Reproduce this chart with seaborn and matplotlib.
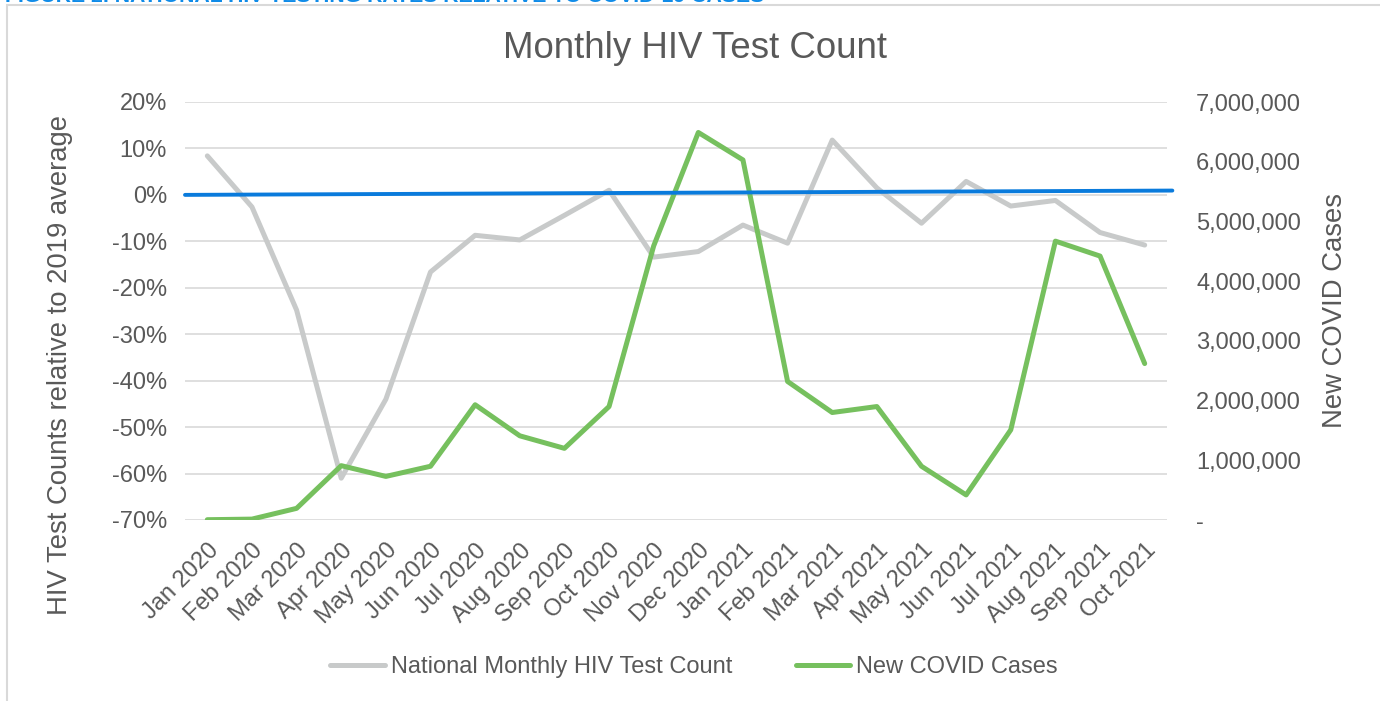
import pandas as pd
import numpy as np
import matplotlib
matplotlib.use('Agg')
import matplotlib.pyplot as plt
from matplotlib.patches import Rectangle
from matplotlib.lines import Line2D
import seaborn as sns

sns.set_theme(style='white')
plt.rcParams['font.family'] = ['Liberation Sans', 'DejaVu Sans']

TEXT = '#595959'
GRID = '#D9D9D9'
GRAY = '#C8CACA'
GREEN = '#76C05E'
BLUE = '#0A7BDC'

months = ['Jan 2020', 'Feb 2020', 'Mar 2020', 'Apr 2020', 'May 2020', 'Jun 2020',
          'Jul 2020', 'Aug 2020', 'Sep 2020', 'Oct 2020', 'Nov 2020', 'Dec 2020',
          'Jan 2021', 'Feb 2021', 'Mar 2021', 'Apr 2021', 'May 2021', 'Jun 2021',
          'Jul 2021', 'Aug 2021', 'Sep 2021', 'Oct 2021']
# HIV test counts relative to 2019 average (%)
hiv_pct = [8.4, -2.6, -24.8, -61.0, -44.0, -16.6, -8.7, -9.7, -4.4, 1.0, -13.4,
           -12.2, -6.5, -10.4, 11.8, 1.5, -6.1, 2.9, -2.4, -1.2, -8.1, -10.8]
# new COVID cases per month
covid_cases = [5000, 15000, 195000, 910000, 730000, 900000, 1930000, 1410000,
               1200000, 1900000, 4590000, 6490000, 6030000, 2320000, 1800000,
               1900000, 900000, 420000, 1510000, 4670000, 4420000, 2620000]
# 2019 baseline reference line (start / end, in %)
baseline_x = [-0.5, 21.62]
baseline_pct = [0.0, 0.93]

left_ticks = [20, 10, 0, -10, -20, -30, -40, -50, -60, -70]
right_ticks = [0, 1e6, 2e6, 3e6, 4e6, 5e6, 6e6, 7e6]

df = pd.DataFrame({'idx': np.arange(len(months)), 'month': months,
                   'hiv': hiv_pct, 'covid': covid_cases})
base = pd.DataFrame({'x': baseline_x, 'y': baseline_pct})

fig = plt.figure(figsize=(13.8, 7.01), dpi=100)
ax = fig.add_axes([185 / 1380, 1 - 520 / 701, 982 / 1380, 418 / 701])
ax2 = ax.twinx()

line_kw = dict(solid_capstyle='round', solid_joinstyle='round')
sns.lineplot(data=df, x='idx', y='hiv', ax=ax, color=GRAY, linewidth=3.6, zorder=3, **line_kw)
sns.lineplot(data=df, x='idx', y='covid', ax=ax2, color=GREEN, linewidth=3.6, zorder=3, **line_kw)
sns.lineplot(data=base, x='x', y='y', ax=ax2, color=BLUE, linewidth=2.8, zorder=5, clip_on=False)
# baseline sits on the right axes so it is drawn on top; convert % to right-axis units
bl = ax2.lines[-1]
bl.set_ydata([(v + 70) / 90 * 7e6 for v in baseline_pct])

ax.set_xlim(-0.5, len(months) - 0.5)
ax.set_ylim(-70, 20)
ax2.set_ylim(0, 7e6)

ax.set_yticks(left_ticks)
ax.set_yticklabels([f'{t}%' for t in left_ticks])
ax2.set_yticks(right_ticks)
ax2.set_yticklabels(['-' if t == 0 else f'{int(t):,}' for t in right_ticks])
ax.set_xticks(df['idx'])
ax.set_xticklabels(months, rotation=45, ha='right', rotation_mode='anchor')

ax.grid(axis='y', color=GRID, linewidth=1.2)
ax.grid(axis='x', visible=False)
ax2.grid(False)
for a in (ax, ax2):
    for s in a.spines.values():
        s.set_visible(False)
    a.set_xlabel('')
    a.set_ylabel('')
ax.tick_params(axis='y', length=0, pad=13, labelsize=17, labelcolor=TEXT)
ax.tick_params(axis='x', length=0, pad=14, labelsize=17, labelcolor=TEXT)
ax2.tick_params(axis='y', length=0, pad=21, labelsize=17, labelcolor=TEXT)

fig.text(60 / 1380, 1 - 365 / 701, 'HIV Test Counts relative to 2019 average',
         rotation=90, ha='center', va='center', fontsize=19.8, color=TEXT)
fig.text(1335 / 1380, 1 - 311 / 701, 'New COVID Cases',
         rotation=90, ha='center', va='center', fontsize=19.8, color=TEXT)
fig.text(695 / 1380, 1 - 48 / 701, 'Monthly HIV Test Count',
         ha='center', va='center', fontsize=26.4, color=TEXT)

# figure caption, cut off at the top edge as in the source
fig.text(5 / 1380, 1 - 2 / 701, 'FIGURE 2. NATIONAL HIV TESTING RATES RELATIVE TO COVID-19 CASES',
         ha='left', va='baseline', fontsize=15.3, fontweight='bold', color='#0F8BE8')

fig.patches.append(Rectangle((7 / 1380, -0.1), 1.2, 1.1 - 5 / 701, transform=fig.transFigure,
                             fill=False, edgecolor=GRID, linewidth=1.5))

handles = [Line2D([], [], color=GRAY, linewidth=3.6, solid_capstyle='round'),
           Line2D([], [], color=GREEN, linewidth=3.6, solid_capstyle='round')]
leg = fig.legend(handles, ['National Monthly HIV Test Count', 'New COVID Cases'],
                 loc='center', bbox_to_anchor=(694 / 1380, 1 - 667 / 701), ncol=2,
                 frameon=False, fontsize=17, handlelength=2.3, handletextpad=0.25,
                 columnspacing=2.7)
for t in leg.get_texts():
    t.set_color(TEXT)

plt.savefig('out.png', dpi=100)
plt.close()
